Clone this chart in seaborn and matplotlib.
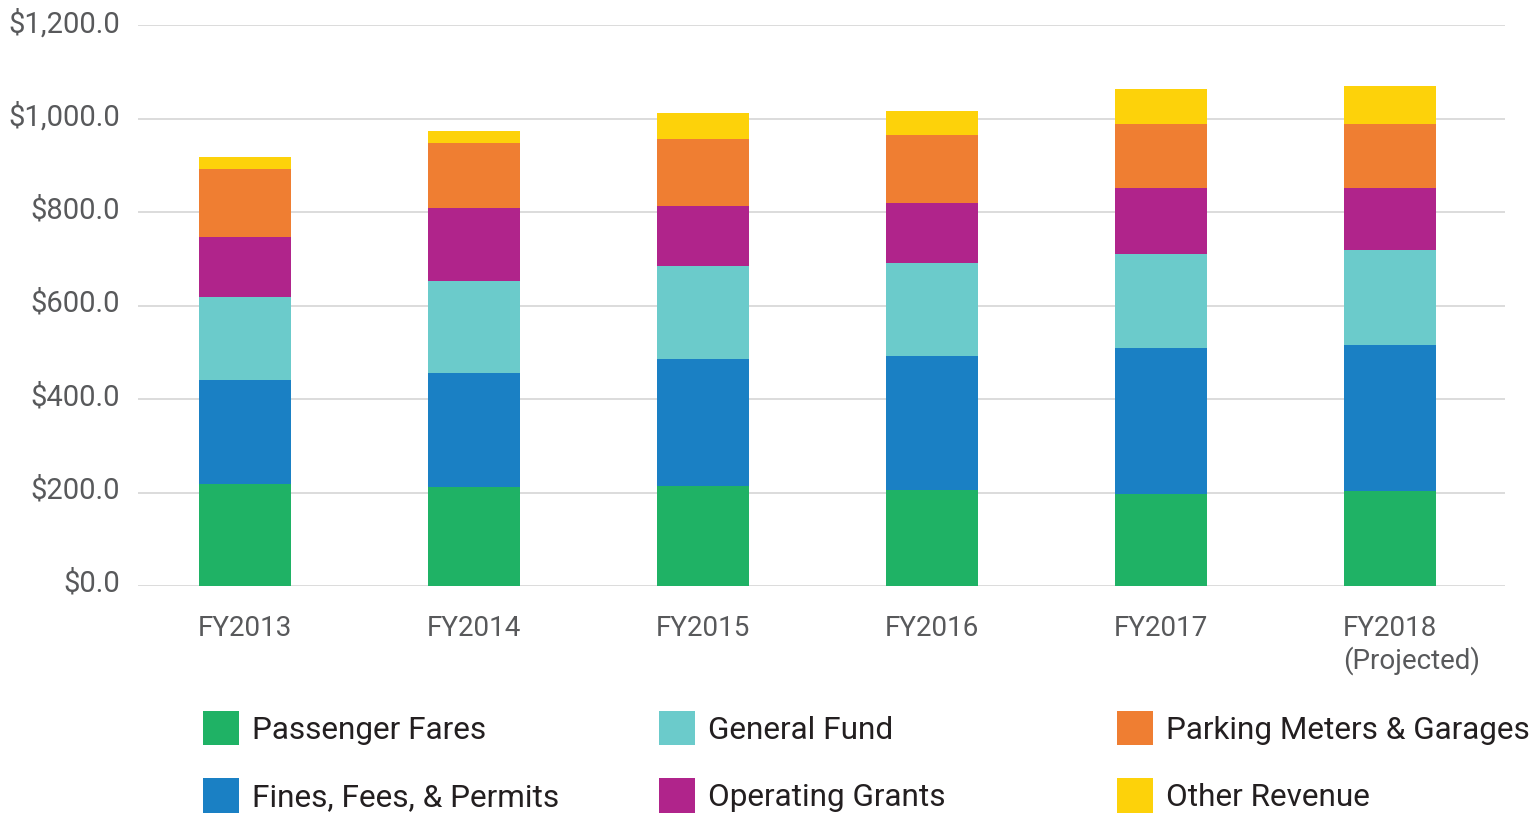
import numpy as np
import pandas as pd
import seaborn as sns
import matplotlib.pyplot as plt
import matplotlib.transforms as mtransforms
from matplotlib.patches import Patch

# ---- data ----
years = ["FY2013", "FY2014", "FY2015", "FY2016", "FY2017", "FY2018\n(Projected)"]
series_names = ["Passenger Fares", "Fines, Fees, & Permits", "General Fund",
                "Operating Grants", "Parking Meters & Garages", "Other Revenue"]
passenger_fares = [218, 212, 214, 205, 197, 203]
fines_fees_permits = [223, 244, 272, 287, 312, 313]
general_fund = [177, 196, 198, 199, 201, 203]
operating_grants = [129, 157, 129, 128, 141, 134]
parking_meters_garages = [145, 139, 145, 146, 137, 137]
other_revenue = [26, 27, 54, 51, 75, 80]
y_ticks = [0, 200, 400, 600, 800, 1000, 1200]

colors = ["#1fb265", "#1a80c4", "#6bcbcb", "#b0248b", "#ef7e32", "#fdd20a"]

sns.set_theme(style="white")
plt.rcParams['font.family'] = ['Roboto', 'DejaVu Sans']

W, H = 1537, 817
fig = plt.figure(figsize=(W / 100, H / 100), dpi=100)
ax = fig.add_axes([138 / W, 1 - 586 / H, (1505 - 138) / W, (586 - 25) / H])

layers = np.array([passenger_fares, fines_fees_permits, general_fund,
                   operating_grants, parking_meters_garages, other_revenue], dtype=float)
cum = np.cumsum(layers, axis=0)
for i in reversed(range(len(series_names))):
    df = pd.DataFrame({"year": years, "value": cum[i]})
    sns.barplot(data=df, x="year", y="value", color=colors[i], saturation=1,
                width=0.4, linewidth=0, ax=ax, zorder=3)

ax.set_xlim(-0.467, 5.502)
ax.set_ylim(0, 1201)
ax.set_yticks(y_ticks)
ax.set_yticklabels(["\\$" + f"{v:,.1f}" for v in y_ticks])
ax.yaxis.grid(True, color="#d9d9d9", linewidth=1.3)
ax.xaxis.grid(False)
ax.set_axisbelow(True)
for s in ax.spines.values():
    s.set_visible(False)
ax.set_xlabel("")
ax.set_ylabel("")
ax.tick_params(axis="y", length=0, pad=13, labelsize=21, labelcolor="#58595b")
ax.tick_params(axis="x", length=0, pad=21, labelsize=20, labelcolor="#58595b")

for t in ax.get_yticklabels():
    t.set_transform(t.get_transform() +
                    mtransforms.ScaledTranslation(0, 5 / 100, fig.dpi_scale_trans))

lbl = ax.get_xticklabels()[-1]
lbl.set_ha("left")
lbl.set_multialignment("left")
lbl.set_transform(lbl.get_transform() +
                  mtransforms.ScaledTranslation(-47 / 100, 0, fig.dpi_scale_trans))

handles = [Patch(facecolor=c, edgecolor="none") for c in colors]
col_x = [203, 659, 1117]
for k in range(3):
    hs = handles[2 * k:2 * k + 2]
    ls = series_names[2 * k:2 * k + 2]
    fig.legend(hs, ls, loc="upper left", bbox_to_anchor=(col_x[k] / W, 1 - 711 / H),
               frameon=False, fontsize=22.7, labelcolor="#231f20",
               handlelength=1.15, handleheight=1.3, handletextpad=0.42,
               labelspacing=1.05, borderpad=0, borderaxespad=0)

fig.savefig("out.png", dpi=100)
